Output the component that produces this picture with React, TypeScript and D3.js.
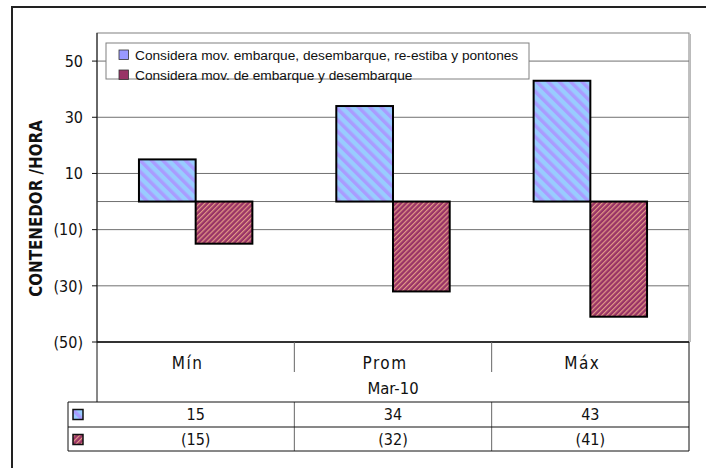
import React from 'react'
import * as d3 from 'd3'

const categories = ['Mín', 'Prom', 'Máx']
const period = 'Mar-10'
const seriesNames = [
    'Considera mov. embarque, desembarque, re-estiba y pontones',
    'Considera mov. de embarque y desembarque',
]
const seriesA = [15, 34, 43]
const seriesB = [-15, -32, -41]
const yTicks = [-50, -30, -10, 10, 30, 50]

const W = 706
const H = 468
const plot = { left: 97, right: 689, top: 33, bottom: 342 }
const table = { catBottom: 372, row1: 402, row2: 427, row3: 451, left: 68 }

const fmt = (v: number) => (v < 0 ? `(${Math.abs(v)})` : `${v}`)

const numFont = '"DejaVu Sans Condensed", "DejaVu Sans", sans-serif'

export default function App() {
    const y = d3.scaleLinear().domain([-50, 60]).range([plot.bottom, plot.top])
    const x = d3.scaleBand<string>().domain(categories).range([plot.left, plot.right])
    const inner = d3.scaleBand<number>().domain([0, 1]).range([0, x.bandwidth()]).paddingOuter(0.74)

    const series = [
        { name: seriesNames[0], values: seriesA, fill: 'url(#hatchBlue)', swatch: '#9999ff' },
        { name: seriesNames[1], values: seriesB, fill: 'url(#hatchRed)', swatch: '#993366' },
    ]

    return (
        <svg width={W} height={H} style={{ position: 'absolute', left: 0, top: 0, background: '#fff' }}>
            <defs>
                <pattern id="hatchBlue" patternUnits="userSpaceOnUse" width={8} height={8} patternTransform="rotate(-45)">
                    <rect width={8} height={8} fill="#99ccff" />
                    <rect width={3.5} height={8} fill="#a99cff" />
                </pattern>
                <pattern id="hatchRed" patternUnits="userSpaceOnUse" width={3.6} height={3.6} patternTransform="rotate(45)">
                    <rect width={3.6} height={3.6} fill="#993366" />
                    <rect width={1.2} height={3.6} fill="#e29a86" />
                </pattern>
            </defs>

            {/* outer frame, clipped on right/bottom */}
            <path d={`M12,${H} L12,7 L${W},7`} fill="none" stroke="#222" strokeWidth={2} />

            {/* plot frame shadow + border */}
            <line x1={plot.right + 1.5} x2={plot.right + 1.5} y1={plot.top + 1} y2={plot.bottom} stroke="#bbb" strokeWidth={1} />
            <rect x={plot.left} y={plot.top} width={plot.right - plot.left} height={plot.bottom - plot.top} fill="none" stroke="#808080" strokeWidth={1} />

            {/* grid */}
            {yTicks.concat([0]).map(t => (
                <line key={t} x1={plot.left} x2={plot.right} y1={y(t)} y2={y(t)} stroke="#707070" strokeWidth={1} />
            ))}

            {/* bars */}
            {series.map((s, si) =>
                s.values.map((v, i) => {
                    const bx = (x(categories[i]) ?? 0) + (inner(si) ?? 0)
                    return (
                        <rect key={`${si}-${i}`} x={bx} y={y(Math.max(0, v))} width={inner.bandwidth()}
                            height={Math.abs(y(v) - y(0))} fill={s.fill} stroke="#000" strokeWidth={2} />
                    )
                })
            )}

            {/* y axis */}
            <line x1={plot.left} x2={plot.left} y1={plot.top} y2={table.row1} stroke="#111" strokeWidth={1} />
            {yTicks.map(t => (
                <g key={t}>
                    <line x1={plot.left - 5} x2={plot.left} y1={y(t)} y2={y(t)} stroke="#111" />
                    <text x={83} y={y(t)} dy="0.36em" textAnchor="end" fontFamily={numFont} fontSize={16} fill="#111">{fmt(t)}</text>
                </g>
            ))}
            <text transform={`translate(42,${(plot.top + plot.bottom) / 2 + 21}) rotate(-90)`} textAnchor="middle"
                fontFamily={numFont} fontWeight="bold" fontSize={16.8} fill="#111">CONTENEDOR /HORA</text>

            {/* legend */}
            <rect x={106} y={43} width={423} height={36} fill="#fff" stroke="#808080" />
            {series.map((s, i) => (
                <g key={s.name} transform={`translate(119,${55 + i * 20})`}>
                    <rect x={0} y={-5} width={9.5} height={9.5} fill={s.swatch} stroke="#333" strokeWidth={0.8} />
                    <text x={16} y={0} dy="0.36em" fontFamily="'Liberation Sans', Arial, sans-serif" fontSize={13.7} fill="#111">{s.name}</text>
                </g>
            ))}

            {/* category table */}
            <line x1={plot.left} x2={plot.right} y1={plot.bottom} y2={plot.bottom} stroke="#111" strokeWidth={1.5} />
            {categories.map((c, i) => (
                <text key={c} x={(x(c) ?? 0) + x.bandwidth() / 2 - 8} y={363} dy="0.36em" textAnchor="middle"
                    fontFamily={numFont} fontSize={17} letterSpacing={1.5} fill="#111">{c}</text>
            ))}
            {categories.slice(1).map(c => (
                <g key={c}>
                    <line x1={x(c)} x2={x(c)} y1={plot.bottom} y2={table.catBottom} stroke="#666" />
                    <line x1={x(c)} x2={x(c)} y1={table.row1} y2={table.row3} stroke="#666" />
                </g>
            ))}
            <text x={(plot.left + plot.right) / 2} y={388} dy="0.36em" textAnchor="middle" fontFamily={numFont} fontSize={16.5} fill="#111">{period}</text>
            <line x1={plot.right} x2={plot.right} y1={plot.bottom} y2={table.row3} stroke="#111" />

            {/* data table */}
            {[table.row1, table.row2, table.row3].map(r => (
                <line key={r} x1={table.left} x2={plot.right} y1={r} y2={r} stroke="#111" />
            ))}
            <line x1={table.left} x2={table.left} y1={table.row1} y2={table.row3} stroke="#111" />
            {series.map((s, si) => {
                const top = si === 0 ? table.row1 : table.row2
                const mid = top + 12.5
                return (
                    <g key={si}>
                        <rect x={73} y={mid - 5} width={10} height={10} fill={s.fill} stroke="#111" strokeWidth={1.5} />
                        {s.values.map((v, i) => (
                            <text key={i} x={(x(categories[i]) ?? 0) + x.bandwidth() / 2} y={mid} dy="0.36em" textAnchor="middle"
                                fontFamily={numFont} fontSize={16} fill="#111">{fmt(v)}</text>
                        ))}
                    </g>
                )
            })}
        </svg>
    )
}
